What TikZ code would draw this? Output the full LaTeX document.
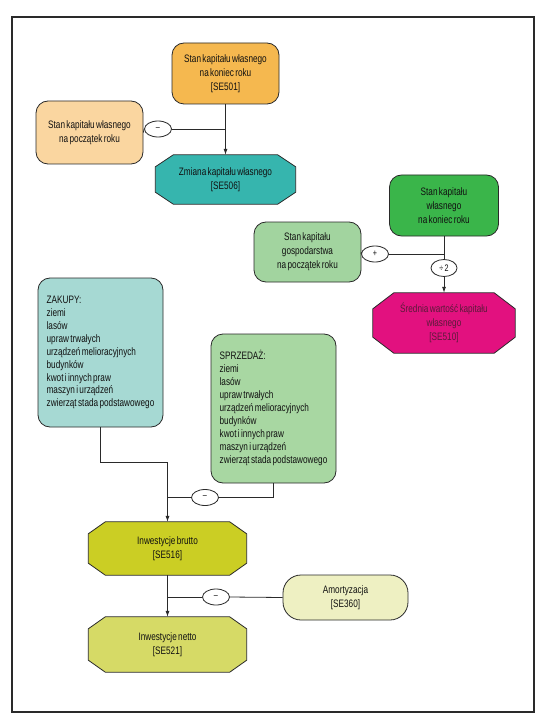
\documentclass[tikz,border=0pt]{standalone}
\usepackage{fontspec}
\setmainfont{Liberation Sans}[FakeStretch=0.76,WordSpace=0.6]
\usetikzlibrary{shapes.geometric,arrows.meta,calc,backgrounds}
\definecolor{cOrange}{HTML}{F5B84F}
\definecolor{cPeach}{HTML}{FAD6A0}
\definecolor{cTeal}{HTML}{36B5AE}
\definecolor{cGreen}{HTML}{3AB54A}
\definecolor{cLGreen}{HTML}{A2D49F}
\definecolor{cPink}{HTML}{E2117F}
\definecolor{cPinkTxt}{HTML}{5B1A3A}
\definecolor{cZak}{HTML}{A6D9D3}
\definecolor{cSprz}{HTML}{A8D7A2}
\definecolor{cBrutto}{HTML}{CBCE24}
\definecolor{cNetto}{HTML}{D6DA66}
\definecolor{cAmort}{HTML}{EEF0C2}
\definecolor{cLine}{HTML}{2A2A2A}
\definecolor{cTxt}{HTML}{111111}
\newcommand\listtext[1]{{\renewcommand\arraystretch{1.08}\begin{tabular}{@{}l@{}}#1\end{tabular}}}
\tikzset{
  rbox/.style={draw=cLine, line width=0.8pt, rounded corners=12pt, align=center,
    inner sep=4pt, text=cTxt, font=\fontsize{10.8}{14}\selectfont},
  listbox/.style={draw=cLine, line width=0.8pt, rounded corners=12pt, inner sep=4pt,
    text=cTxt, font=\fontsize{10.8}{12}\selectfont,
    minimum width=125pt, minimum height=149pt},
  octbox/.style={rectangle, align=center, text=cTxt,
    font=\fontsize{10.8}{14}\selectfont, inner sep=2pt},
  opnode/.style={draw=cLine, line width=0.8pt, ellipse, fill=white, inner sep=0pt,
    minimum width=27pt, minimum height=16pt, font=\fontsize{9.5}{10}\selectfont, text=cTxt},
  conn/.style={draw=cLine, line width=0.8pt},
  arr/.style={conn, -{Latex[length=6pt,width=4pt]}},
}
% octagon outline behind a named node: name, fill, x-chamfer, y-chamfer
\newcommand\octshape[4]{%
  \begin{scope}[on background layer]
  \filldraw[conn, fill=#2]
    ($(#1.north west)+(#3,0)$) -- ($(#1.north east)+(-#3,0)$) --
    ($(#1.north east)+(0,#4)$) -- ($(#1.south east)+(0,-#4)$) --
    ($(#1.south east)+(-#3,0)$) -- ($(#1.south west)+(#3,0)$) --
    ($(#1.south west)+(0,-#4)$) -- ($(#1.north west)+(0,#4)$) -- cycle;
  \end{scope}}
\begin{document}
\begin{tikzpicture}[x=1pt,y=-1pt]
\useasboundingbox (0,0) rectangle (541,719);
\begin{scope}[on background layer]
\fill[white] (0,0) rectangle (541,719);
\draw[line width=1.2pt, color=cLine] (12,17) rectangle (534,712);
\end{scope}

% top group
\node[rbox, fill=cOrange, minimum width=107pt, minimum height=61pt] (se501) at (225.5,73.5)
  {Stan kapitału własnego\\na koniec roku\\{[}SE501{]}};
\node[rbox, fill=cPeach, minimum width=107pt, minimum height=63pt] (start) at (89.5,132.5)
  {Stan kapitału własnego\\na początek roku};
\node[octbox, minimum width=140pt, minimum height=49pt] (se506) at (225.5,179.5)
  {Zmiana kapitału własnego\\{[}SE506{]}};
\octshape{se506}{cTeal}{18}{12}
\node[opnode] (m1) at (158,129) {--};
\draw[arr] (se501.south) -- (se506.north);
\draw[conn] (start.east) -- (m1.west);
\draw[conn] (m1.east) -- (m1 -| se501.south);

% right group
\node[rbox, fill=cGreen, minimum width=109pt, minimum height=61pt] (green) at (444,205.5)
  {Stan kapitału\\własnego\\na koniec roku};
\node[rbox, fill=cLGreen, minimum width=107pt, minimum height=60pt] (gosp) at (307.5,252)
  {Stan kapitału\\gospodarstwa\\na początek roku};
\node[octbox, text=cPinkTxt, minimum width=142pt, minimum height=60pt] (se510) at (444,323)
  {Średnia wartość kapitału\\własnego\\{[}SE510{]}};
\octshape{se510}{cPink}{21}{16}
\node[opnode] (plus) at (375,254) {+};
\node[opnode, minimum width=26pt, minimum height=17pt] (div) at (444,268) {÷ 2};
\draw[conn] (green.south) -- (div.north);
\draw[arr] (div.south) -- (se510.north);
\draw[conn] (gosp.east) -- (plus.west);
\draw[conn] (plus.east) -- (plus -| green.south);

% lower group
\node[listbox, fill=cZak] (zak) at (100.5,352.5)
  {\listtext{ZAKUPY:\\ziemi\\lasów\\upraw trwałych\\urządzeń melioracyjnych\\budynków\\kwot i innych praw\\maszyn i urządzeń\\zwierząt stada podstawowego}};
\node[listbox, fill=cSprz] (sprz) at (273.5,408.5)
  {\listtext{SPRZEDAŻ:\\ziemi\\lasów\\upraw trwałych\\urządzeń melioracyjnych\\budynków\\kwot i innych praw\\maszyn i urządzeń\\zwierząt stada podstawowego}};
\node[octbox, minimum width=158pt, minimum height=53pt] (brutto) at (167.5,548.5)
  {Inwestycje brutto\\{[}SE516{]}};
\octshape{brutto}{cBrutto}{17}{12}
\node[octbox, minimum width=158pt, minimum height=55pt] (netto) at (167.5,644.5)
  {Inwestycje netto\\{[}SE521{]}};
\octshape{netto}{cNetto}{17}{12}
\node[rbox, fill=cAmort, rounded corners=18pt, minimum width=125pt, minimum height=45pt] (amort) at (345.5,597.5)
  {Amortyzacja\\{[}SE360{]}};
\node[opnode] (m2) at (205,497.5) {--};
\node[opnode] (m3) at (216,597) {--};
\coordinate (jz) at ($(zak.south)+(0,35)$);
\draw[conn] (zak.south) -- (jz) -- (jz -| brutto.north);
\draw[arr] (jz -| brutto.north) -- (brutto.north);
\draw[conn] (sprz.south) |- (m2.east);
\draw[conn] (m2.west) -- (m2 -| brutto.north);
\draw[arr] (brutto.south) -- (netto.north);
\draw[conn] (amort.west) -- (m3.east);
\draw[conn] (m3.west) -- (m3 -| brutto.south);
\end{tikzpicture}
\end{document}
